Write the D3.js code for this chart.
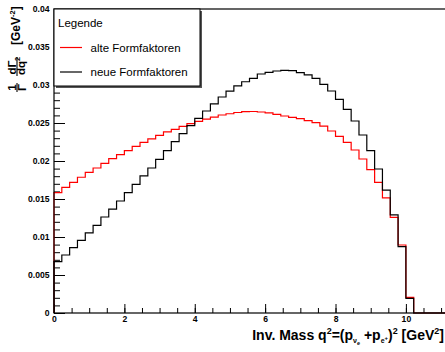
<!DOCTYPE html>
<html>
<head>
<meta charset="utf-8">
<script src="https://cdn.jsdelivr.net/npm/d3@7"></script>
<style>
  body { margin: 0; background: #fff; }
  svg { display: block; font-family: "Liberation Sans", Arial, sans-serif; }
</style>
</head>
<body>
<svg id="chart" width="445" height="352"></svg>
<script>
// 50 bins from 0 to 100/9 GeV^2 (bin width 2/9)
var binCount = 50;
var xMax = 100 / 9;

var alteValues = [
  0.01583, 0.01654, 0.0172, 0.01786, 0.01851, 0.01908, 0.0197, 0.0203, 0.02083, 0.02136,
  0.02193, 0.02246, 0.0229, 0.02338, 0.02382, 0.02415, 0.02455, 0.02492, 0.02522, 0.0255,
  0.02578, 0.02605, 0.02622, 0.02638, 0.02649, 0.02651, 0.02645, 0.02632, 0.02614, 0.02592,
  0.02575, 0.02558, 0.0253, 0.02505, 0.0246, 0.02395, 0.02325, 0.02246, 0.02145, 0.02026,
  0.01886, 0.0172, 0.01515, 0.01257, 0.00895, 0.00206, 0, 0, 0, 0
];
var neueValues = [
  0.00675, 0.00763, 0.00859, 0.00956, 0.01053, 0.01154, 0.01263, 0.01368, 0.01474, 0.01583,
  0.01693, 0.01803, 0.01908, 0.02022, 0.02136, 0.02254, 0.02359, 0.02465, 0.02561, 0.02658,
  0.02752, 0.02842, 0.02919, 0.02989, 0.03043, 0.03088, 0.03145, 0.03167, 0.03184, 0.03193,
  0.03188, 0.03162, 0.03132, 0.03088, 0.03009, 0.02921, 0.02811, 0.0268, 0.02526, 0.02342,
  0.02136, 0.01895, 0.01618, 0.0129, 0.00873, 0.00193, 0, 0, 0, 0
];

var xTicks = [0, 2, 4, 6, 8, 10];
var xTickLabels = ['0', '2', '4', '6', '8', '10'];
var yTicks = [0, 0.005, 0.01, 0.015, 0.02, 0.025, 0.03, 0.035, 0.04];
var yTickLabels = ['0', '0.005', '0.01', '0.015', '0.02', '0.025', '0.03', '0.035', '0.04'];
var seriesNames = ['alte Formfaktoren', 'neue Formfaktoren'];
var seriesColors = ['#ff0000', '#000000'];

var svg = d3.select('#chart');
var padL = 54, padR = 445, padT = 9, padB = 313;

var x = d3.scaleLinear().domain([0, xMax]).range([padL, padR]);
var y = d3.scaleLinear().domain([0, 0.04]).range([padB, padT]);
var binWidth = xMax / binCount;

// minor ticks
svg.append('g')
  .attr('transform', 'translate(' + padL + ',0)')
  .call(d3.axisLeft(y).tickValues(d3.range(0, 0.0401, 0.001)).tickSize(-6).tickFormat(''))
  .call(function(g) { g.select('.domain').remove(); });
svg.append('g')
  .attr('transform', 'translate(0,' + padB + ')')
  .call(d3.axisBottom(x).tickValues(d3.range(0, xMax, 0.5)).tickSize(-5).tickFormat(''))
  .call(function(g) { g.select('.domain').remove(); });

// major ticks + labels
var yAxis = svg.append('g')
  .attr('transform', 'translate(' + padL + ',0)')
  .call(d3.axisLeft(y).tickValues(yTicks).tickSize(-11).tickPadding(4.5)
    .tickFormat(function(d, i) { return yTickLabels[i]; }));
var xAxis = svg.append('g')
  .attr('transform', 'translate(0,' + padB + ')')
  .call(d3.axisBottom(x).tickValues(xTicks).tickSize(-9).tickPadding(3)
    .tickFormat(function(d, i) { return xTickLabels[i]; }));

[yAxis, xAxis].forEach(function(g) {
  g.select('.domain').remove();
  g.selectAll('text')
    .attr('font-family', '"Liberation Sans", Arial, sans-serif')
    .attr('font-weight', 'bold')
    .attr('font-size', 8.6)
    .attr('fill', '#000');
});
svg.selectAll('.tick line').attr('stroke', '#000');

// histograms
function histPath(values) {
  var pts = [[0, 0]];
  values.forEach(function(v, i) {
    pts.push([i * binWidth, v]);
    pts.push([(i + 1) * binWidth, v]);
  });
  pts.push([xMax, 0]);
  return d3.line()
    .x(function(d) { return x(d[0]); })
    .y(function(d) { return y(d[1]); })(pts);
}

[alteValues, neueValues].forEach(function(vals, i) {
  svg.append('path')
    .attr('d', histPath(vals))
    .attr('fill', 'none')
    .attr('stroke', seriesColors[i])
    .attr('stroke-width', 1.2);
});

// frame
svg.append('rect')
  .attr('x', padL).attr('y', padT)
  .attr('width', padR - padL + 5).attr('height', padB - padT)
  .attr('fill', 'none')
  .attr('stroke', '#000')
  .attr('stroke-width', 1.2);

// legend
var leg = svg.append('g');
leg.append('rect')
  .attr('x', padL + 2).attr('y', padT + 2)
  .attr('width', 146).attr('height', 77)
  .attr('fill', '#555');
leg.append('rect')
  .attr('x', padL).attr('y', padT)
  .attr('width', 146).attr('height', 77)
  .attr('fill', '#fff')
  .attr('stroke', '#000')
  .attr('stroke-width', 1);
leg.append('text')
  .attr('x', 58).attr('y', 27)
  .attr('font-size', 11.5)
  .text('Legende');
seriesNames.forEach(function(name, i) {
  var ly = 47.5 + i * 24.5;
  leg.append('line')
    .attr('x1', 60).attr('x2', 82)
    .attr('y1', ly).attr('y2', ly)
    .attr('stroke', seriesColors[i])
    .attr('stroke-width', 1.2);
  leg.append('text')
    .attr('x', 90.5).attr('y', ly + 4)
    .attr('font-size', 11.5)
    .text(name);
});

// x title
var xt = svg.append('text')
  .attr('x', 444).attr('y', 340)
  .attr('text-anchor', 'end')
  .attr('font-weight', 'bold')
  .attr('font-size', 14);
xt.append('tspan').text('Inv. Mass q');
xt.append('tspan').attr('font-size', 9).attr('dy', -6).text('2');
xt.append('tspan').attr('dy', 6).text('=(p');
xt.append('tspan').attr('font-size', 7).attr('dy', 3).text('\u03bd');
xt.append('tspan').attr('font-size', 5.5).attr('dy', 2).text('e');
xt.append('tspan').attr('dy', -5).text(' +p');
xt.append('tspan').attr('font-size', 7).attr('dy', 3).text('e');
xt.append('tspan').attr('font-size', 6).attr('dy', -3).text('+');
xt.append('tspan').attr('dy', 0).text(')');
xt.append('tspan').attr('font-size', 9).attr('dy', -6).text('2');
xt.append('tspan').attr('dy', 6).text(' [GeV');
xt.append('tspan').attr('font-size', 9).attr('dy', -6).text('2');
xt.append('tspan').attr('dy', 6).text(']');

// y title (rotated)
var yt = svg.append('g')
  .attr('transform', 'rotate(-90)')
  .attr('font-weight', 'bold');
yt.append('text')
  .attr('x', -87.5).attr('y', 15.8)
  .attr('text-anchor', 'middle').attr('font-size', 11.5)
  .text('1');
yt.append('line')
  .attr('x1', -92).attr('x2', -83)
  .attr('y1', 17).attr('y2', 17)
  .attr('stroke', '#000').attr('stroke-width', 1.1);
yt.append('text')
  .attr('x', -87.5).attr('y', 26)
  .attr('text-anchor', 'middle').attr('font-size', 11.5)
  .text('\u0393');
yt.append('text')
  .attr('x', -67.5).attr('y', 15.8)
  .attr('text-anchor', 'middle').attr('font-size', 11.5)
  .text('d\u0393');
yt.append('line')
  .attr('x1', -76).attr('x2', -57)
  .attr('y1', 17).attr('y2', 17)
  .attr('stroke', '#000').attr('stroke-width', 1.1);
var dq = yt.append('text')
  .attr('x', -66).attr('y', 25)
  .attr('text-anchor', 'middle').attr('font-size', 11.5);
dq.append('tspan').text('dq');
dq.append('tspan').attr('font-size', 7.5).attr('dy', -5).text('2');
var gev = yt.append('text')
  .attr('x', -45).attr('y', 19.5)
  .attr('font-size', 12);
gev.append('tspan').text('[GeV');
gev.append('tspan').attr('font-size', 7.5).attr('dy', -5).text('-2');
gev.append('tspan').attr('dy', 5).text(']');
</script>
</body>
</html>
